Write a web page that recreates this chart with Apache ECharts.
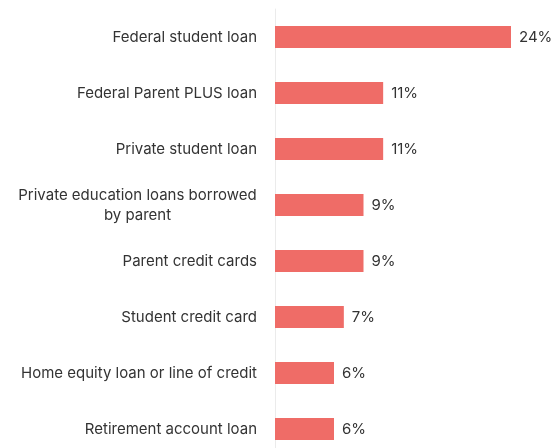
<!DOCTYPE html>
<html><head><meta charset="utf-8">
<script src="https://cdn.jsdelivr.net/npm/echarts@6/dist/echarts.min.js"></script>
<style>html,body{margin:0;padding:0;background:#fff}#c{width:555px;height:448px}</style>
</head><body><div id="c"></div>
<script>
const categories = ["Federal student loan","Federal Parent PLUS loan","Private student loan","Private education loans borrowed\nby parent","Parent credit cards","Student credit card","Home equity loan or line of credit","Retirement account loan"];
const values = [24, 11, 11, 9, 9, 7, 6, 6];
const FONT = 'Inter';
const FS = 15;
const cv = document.createElement('canvas').getContext('2d');
cv.font = FS + 'px ' + FONT;
function fmt(v){
  const lines = v.split('\n');
  if (lines.length === 1) return v;
  return lines.map(l => '{c|' + l + '}').join('\n');
}
const multiW = Math.ceil(Math.max(...categories.filter(c=>c.includes('\n')).flatMap(c=>c.split('\n')).map(l => cv.measureText(l).width)));
const chart = echarts.init(document.getElementById('c'), null, {renderer:'canvas'});
chart.setOption({
  animation:false,
  grid:{left:275, top:9, width:236, height:448, outerBoundsMode:'none', containLabel:false},
  xAxis:{type:'value', min:0, max:24, show:false},
  yAxis:{type:'category', data:categories, inverse:true,
    axisLine:{show:true, lineStyle:{color:'#ebebeb', width:1}},
    axisTick:{show:false},
    axisLabel:{margin:18, color:'#333', fontFamily:FONT, fontSize:FS, lineHeight:20, formatter:fmt,
      rich:{c:{width:multiW, align:'center', color:'#333', fontFamily:FONT, fontSize:FS, lineHeight:20}}}
  },
  series:[{type:'bar', data:values, barWidth:22, itemStyle:{color:'#EF6C67'},
    label:{show:true, position:'right', distance:8, formatter:'{c}%', color:'#333', fontFamily:FONT, fontSize:FS}}]
});
</script></body></html>
